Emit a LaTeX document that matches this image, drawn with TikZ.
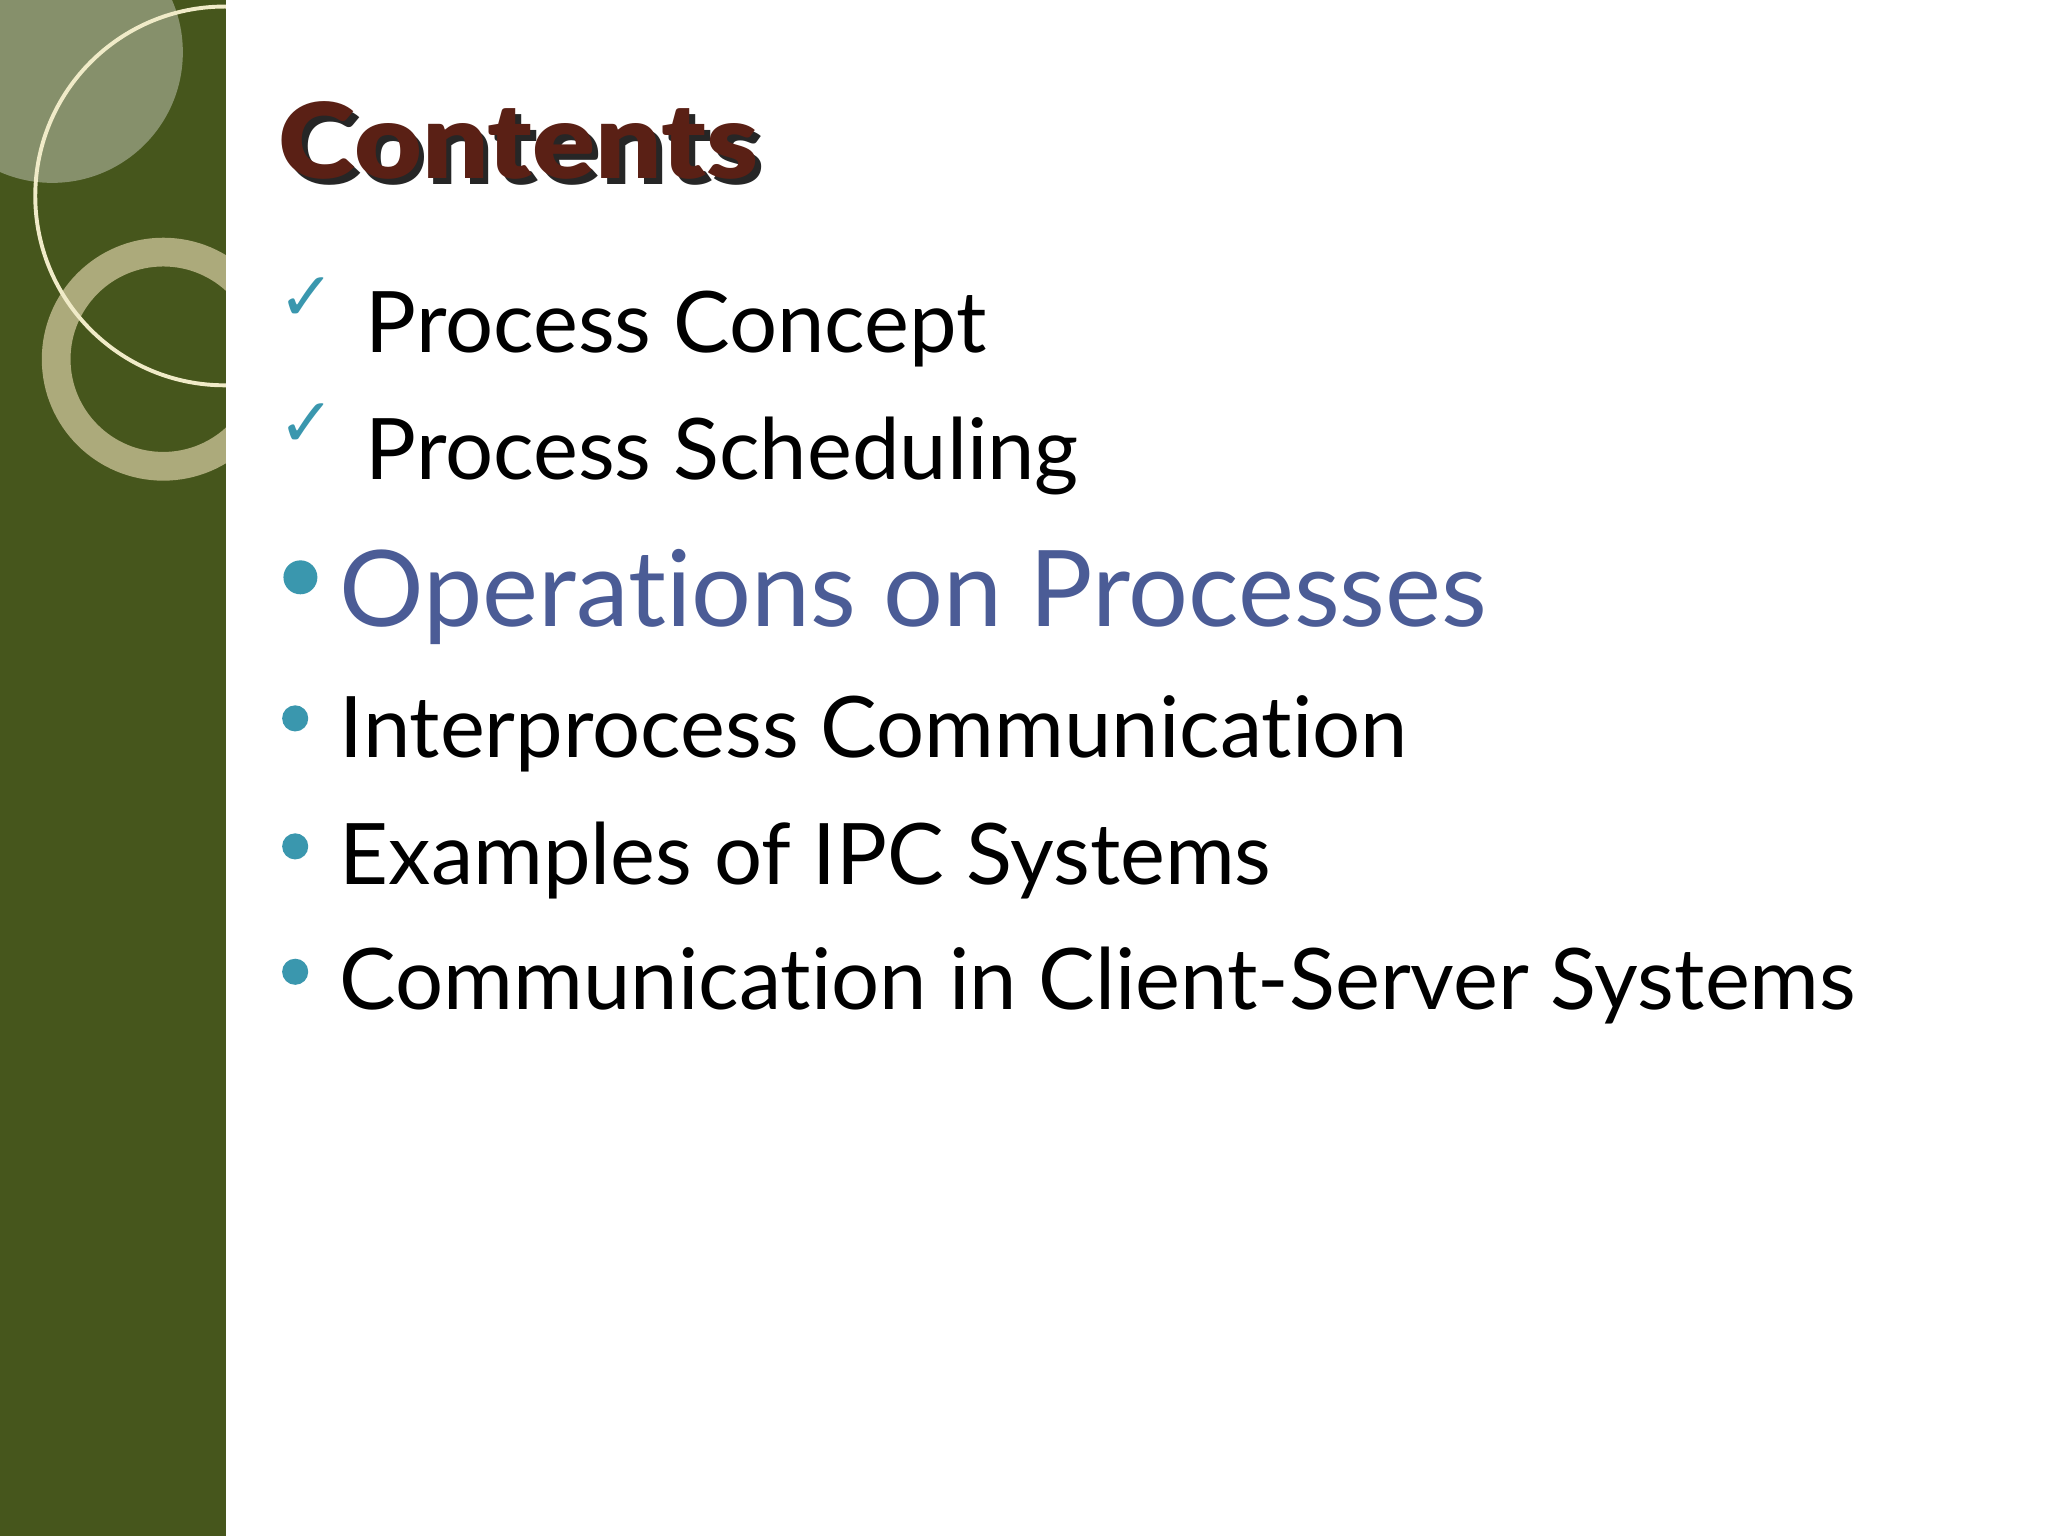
\documentclass[tikz,border=0pt]{standalone}
\usepackage{fontspec}
\setmainfont{Lato}[Ligatures={NoCommon}]
\newfontfamily\blackfont{Lato Black}[Ligatures={NoCommon}]
\newfontfamily\symfont{DejaVu Sans}
\definecolor{bar}{HTML}{46561C}
\definecolor{ttl}{HTML}{5A2015}
\definecolor{teal}{HTML}{3A97AE}
\definecolor{hl}{HTML}{4B5C96}
\begin{document}
\begin{tikzpicture}[x=1pt,y=-1pt,
  item/.style={anchor=base west,font=\fontsize{65}{70}\selectfont,inner sep=0pt},
  chk/.style={anchor=base west,text=teal,font=\symfont\fontsize{52}{56}\selectfont,inner sep=0pt},
  dot/.style={circle,fill=teal,inner sep=0pt,minimum size=#1}]
\useasboundingbox (0,0) rectangle (1568,1176);
\fill[white] (0,0) rectangle (1568,1176);
\fill[bar] (0,0) rectangle (173,1176);
\begin{scope}
\clip (0,0) rectangle (173,1176);
\fill[white,opacity=0.35] (40,40) circle (100);
\draw[line width=22pt,color={rgb,255:red,190;green,185;blue,140},opacity=0.85] (125,275) circle (82);
\draw[line width=3pt,color={rgb,255:red,240;green,235;blue,200}] (172,150) circle (145);
\end{scope}
\node[anchor=base west,inner sep=0pt,xscale=1.12,font=\blackfont\fontsize{80}{88}\selectfont,text=ttl] (title) at (213,137)
  {\rlap{\color{black!85}\kern4pt\raisebox{-4pt}{Contents}}Contents};
\node[chk] (c1) at (213,245) {✓};
\node[item] (t1) at (280,270) {Process Concept};
\node[chk] (c2) at (213,342) {✓};
\node[item] (t2) at (280,367) {Process Scheduling};
\node[dot=26pt] (b3) at (230,442) {};
\node[item,text=hl,font=\fontsize{81}{88}\selectfont] (t3) at (260,480) {Operations on Processes};
\node[dot=20pt] (b4) at (226,550) {};
\node[item] (t4) at (260,580) {Interprocess Communication};
\node[dot=20pt] (b5) at (226,648) {};
\node[item] (t5) at (260,677) {Examples of IPC Systems};
\node[dot=20pt] (b6) at (226,744) {};
\node[item] (t6) at (260,773) {Communication in Client-Server Systems};
\end{tikzpicture}
\end{document}
